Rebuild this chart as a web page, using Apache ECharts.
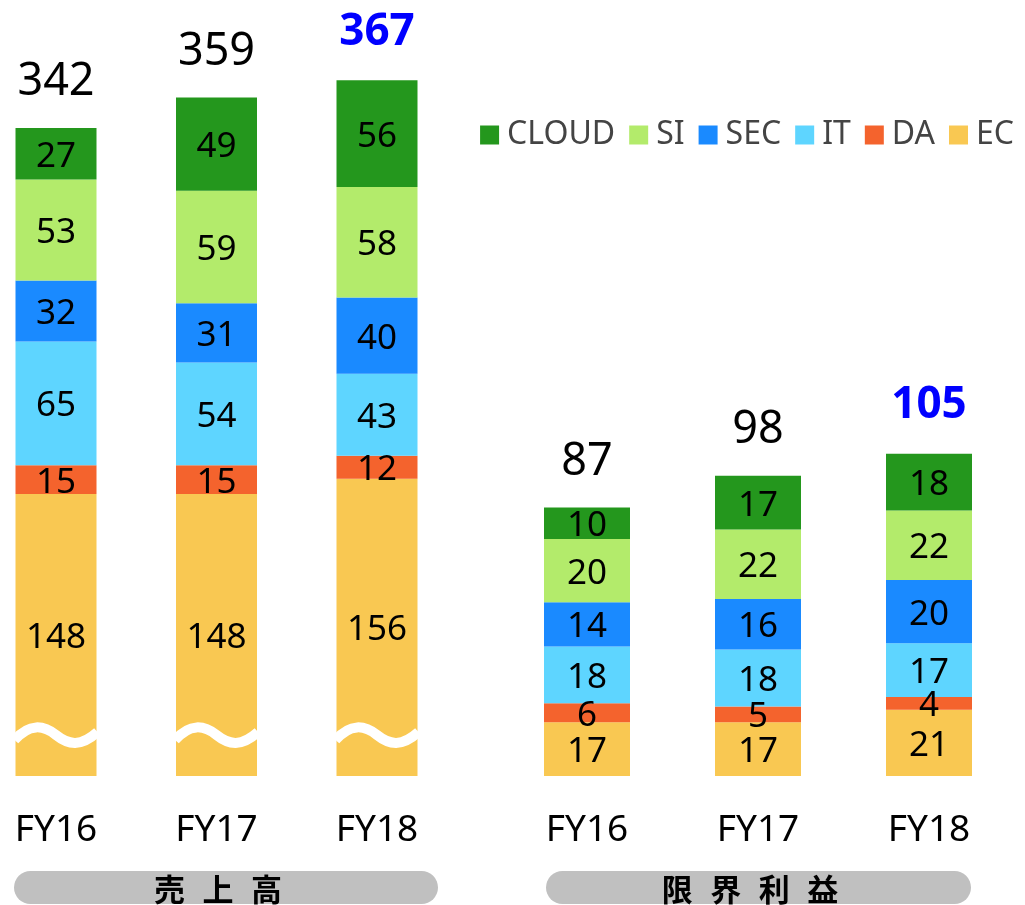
<!DOCTYPE html>
<html>
<head>
<meta charset="utf-8">
<script src="https://cdn.jsdelivr.net/npm/echarts@6/dist/echarts.min.js"></script>
<style>
  html, body { margin: 0; padding: 0; background: #fff; }
  #chart { width: 1025px; height: 905px; }
</style>
</head>
<body>
<div id="chart"></div>
<script>
// categories
const years = ['FY16', 'FY17', 'FY18']
const legendNames = ['CLOUD', 'SI', 'SEC', 'IT', 'DA', 'EC']

// 売上高
const salesEC = [148, 148, 156]
const salesDA = [15, 15, 12]
const salesIT = [65, 54, 43]
const salesSEC = [32, 31, 40]
const salesSI = [53, 59, 58]
const salesCLOUD = [27, 49, 56]
const salesTotals = [342, 359, 367]

// 限界利益
const profitEC = [17, 17, 21]
const profitDA = [6, 5, 4]
const profitIT = [18, 18, 17]
const profitSEC = [14, 16, 20]
const profitSI = [20, 22, 22]
const profitCLOUD = [10, 17, 18]
const profitTotals = [87, 98, 105]

// value where the EC bar is drawn as broken (wave)
const waveAt = [21.5, 21.5, 21.5]

const colors = {
  CLOUD: '#24971d',
  SI: '#b3eb6b',
  SEC: '#1a8aff',
  IT: '#5ed5ff',
  DA: '#f4632d',
  EC: '#f9c852'
}

const salesBarWidth = 81
const profitBarWidth = 86

const chart = echarts.init(document.getElementById('chart'))

function segSeries(name, data, idx, barWidth) {
  return {
    name: name,
    type: 'bar',
    stack: 'g' + idx,
    xAxisIndex: idx,
    yAxisIndex: idx,
    barWidth: barWidth,
    itemStyle: { color: colors[name] },
    label: {
      show: true,
      position: 'inside',
      offset: [0, 3],
      color: '#000',
      fontSize: 35,
      fontFamily: 'Noto Sans'
    },
    data: data
  }
}

function totalSeries(idx, totals, barWidth) {
  return {
    name: 'total',
    type: 'bar',
    stack: 'g' + idx,
    xAxisIndex: idx,
    yAxisIndex: idx,
    barWidth: barWidth,
    silent: true,
    itemStyle: { color: 'transparent' },
    label: {
      show: true,
      position: 'top',
      distance: 23,
      color: '#000',
      fontSize: 45,
      fontFamily: 'Noto Sans',
      formatter: p => totals[p.dataIndex]
    },
    data: totals.map((t, i) => i === totals.length - 1
      ? { value: 0, label: { color: '#0000ff', fontWeight: 'bold', fontSize: 44, distance: 26 } }
      : 0)
  }
}

const salesSets = { EC: salesEC, DA: salesDA, IT: salesIT, SEC: salesSEC, SI: salesSI, CLOUD: salesCLOUD }
const profitSets = { EC: profitEC, DA: profitDA, IT: profitIT, SEC: profitSEC, SI: profitSI, CLOUD: profitCLOUD }
const stackOrder = ['EC', 'DA', 'IT', 'SEC', 'SI', 'CLOUD']

const series = []
stackOrder.forEach(n => series.push(segSeries(n, salesSets[n], 0, salesBarWidth)))
series.push(totalSeries(0, salesTotals, salesBarWidth))
stackOrder.forEach(n => series.push(segSeries(n, profitSets[n], 1, profitBarWidth)))
series.push(totalSeries(1, profitTotals, profitBarWidth))

// 波線（省略記号）
series.push({
  type: 'custom',
  xAxisIndex: 0,
  yAxisIndex: 0,
  silent: true,
  z: 5,
  data: waveAt.map((v, i) => [i, v]),
  renderItem: (params, api) => {
    const c = api.coord([api.value(0), api.value(1)])
    const w = salesBarWidth + 2
    const x0 = c[0] - w / 2
    const x1 = c[0] + w / 2
    const y = c[1]
    const d = 'M' + x0 + ' ' + (y + 5) +
      ' C' + (x0 + w * 0.18) + ' ' + (y - 12) + ' ' + (x0 + w * 0.35) + ' ' + (y - 10) + ' ' + (x0 + w * 0.5) + ' ' + y +
      ' S' + (x0 + w * 0.8) + ' ' + (y + 12) + ' ' + x1 + ' ' + (y - 3)
    return {
      type: 'path',
      shape: { pathData: d },
      style: { stroke: '#fff', lineWidth: 10, fill: null }
    }
  }
})

const xAxisCommon = {
  type: 'category',
  data: years,
  axisLine: { show: false },
  axisTick: { show: false },
  axisLabel: { fontSize: 37, color: '#000', margin: 36, fontFamily: 'Noto Sans' }
}

chart.setOption({
  animation: false,
  textStyle: { fontFamily: 'Noto Sans' },
  legend: {
    data: legendNames,
    right: 6,
    top: 114,
    icon: 'rect',
    itemWidth: 19,
    itemHeight: 19,
    itemGap: 14,
    textStyle: { fontSize: 32, color: '#444', padding: [0, 0, 0, 3] }
  },
  grid: [
    { left: -24.25, width: 481.5, top: 13.6, height: 762.4, outerBoundsMode: 'none', containLabel: false },
    { left: 501.5, width: 513, top: 144, height: 632, outerBoundsMode: 'none', containLabel: false }
  ],
  xAxis: [
    Object.assign({ gridIndex: 0 }, xAxisCommon),
    Object.assign({ gridIndex: 1 }, xAxisCommon)
  ],
  yAxis: [
    { gridIndex: 0, type: 'value', min: 0, max: 400, show: false },
    { gridIndex: 1, type: 'value', min: 0, max: 200, show: false }
  ],
  graphic: [
    { type: 'rect', left: 14, top: 871, shape: { width: 424, height: 33, r: 16.5 }, style: { fill: '#c0c0c0' } },
    { type: 'rect', left: 546, top: 871, shape: { width: 425, height: 33, r: 16.5 }, style: { fill: '#c0c0c0' } },
    {
      type: 'text', x: 218, y: 889,
      style: { text: '売\u2002\u200a上\u2002\u200a高', font: 'bold 31px "Noto Sans CJK JP"', fill: '#000', textAlign: 'center', textVerticalAlign: 'middle' }
    },
    {
      type: 'text', x: 750, y: 889,
      style: { text: '限\u2002\u200a界\u2002\u200a利\u2002\u200a益', font: 'bold 31px "Noto Sans CJK JP"', fill: '#000', textAlign: 'center', textVerticalAlign: 'middle' }
    }
  ],
  series: series
})
</script>
</body>
</html>
